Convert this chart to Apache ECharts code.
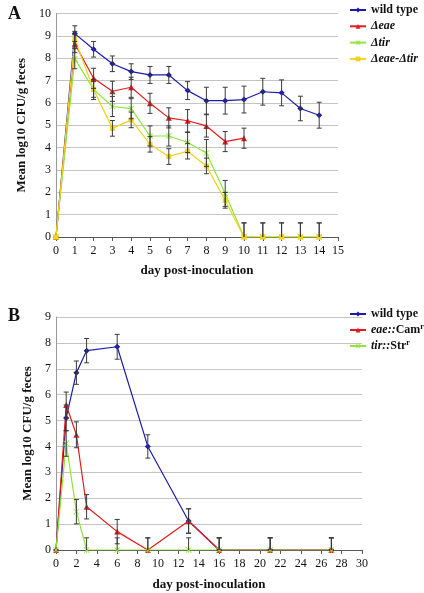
<!DOCTYPE html>
<html><head><meta charset="utf-8">
<script src="https://cdn.jsdelivr.net/npm/echarts@6/dist/echarts.min.js"></script>
<style>html,body{margin:0;padding:0;background:#fff}#c{width:424px;height:593px}</style>
</head><body><div id="c"></div>
<script>
// ---------- Panel A data ----------
const daysA = [0,1,2,3,4,5,6,7,8,9,10,11,12,13,14];
const daysA_eae = [0,1,2,3,4,5,6,7,8,9,10];
const wtA      = [0,9.1,8.4,7.75,7.4,7.25,7.25,6.55,6.1,6.1,6.15,6.5,6.45,5.75,5.45];
const wtA_err  = [0,0.35,0.35,0.35,0.35,0.38,0.38,0.4,0.6,0.6,0.6,0.6,0.58,0.55,0.58];
const eaeA     = [0,8.65,7.1,6.52,6.7,5.98,5.33,5.2,4.97,4.27,4.42];
const eaeA_err = [0,0.4,0.45,0.45,0.45,0.45,0.45,0.5,0.5,0.45,0.45];
const tirA     = [0,7.98,6.6,5.84,5.74,4.52,4.52,4.23,3.76,1.95,0,0,0,0,0];
const tirA_err = [0,0.45,0.45,0.45,0.45,0.45,0.45,0.45,0.6,0.58,0.63,0.63,0.63,0.63,0.63];
const dblA     = [0,8.85,6.6,4.86,5.24,4.15,3.6,3.84,3.18,1.64,0,0,0,0,0];
const dblA_err = [0,0.35,0.35,0.35,0.35,0.35,0.35,0.35,0.35,0.35,0.63,0.63,0.63,0.63,0.63];
const namesA = ['wild type','Δeae','Δtir','Δeae-Δtir'];

// ---------- Panel B data ----------
const daysB    = [0,1,2,3,6,9,13,16,21,27];
const wtB      = [0,5.1,6.85,7.7,7.85,4.0,1.12,0,0,0];
const wtB_err  = [0,0.5,0.45,0.47,0.48,0.45,0.47,0.47,0.47,0.47];
const camB     = [0,5.6,4.45,1.67,0.71,0,1.12,0,0,0];
const camB_err = [0,0.5,0.5,0.47,0.47,0.47,0.47,0.47,0.47,0.47];
const strB     = [0,4.12,1.48,0,0,0,0,0,0,0];
const strB_err = [0,0.5,0.47,0.47,0.47,0.47,0.47,0.47,0.47,0.47];
const namesB = ['wild type','eae::Camr','tir::Strr'];

const FF = '"Liberation Serif", "DejaVu Serif", serif';
const C_BLUE = '#1c1ca8', C_RED = '#e01c1c', C_GREEN = '#8fe63a', C_YEL = '#f2d21c';
const STAR = 'path://M0,1 L1,0 L5,4 L9,0 L10,1 L6,5 L10,9 L9,10 L5,6 L1,10 L0,9 L4,5 Z M4.4,0 L5.6,0 L5.6,10 L4.4,10 Z';

function lineSeries(name, gi, xs, ys, color, symbol, size) {
  return {
    type: 'line', name, xAxisIndex: gi, yAxisIndex: gi,
    data: xs.map((x, i) => [x, ys[i]]),
    symbol, symbolSize: size, showSymbol: true,
    lineStyle: { color, width: 1.2 }, itemStyle: { color },
    z: 3, animation: false
  };
}
function errSeries(gi, xs, ys, es) {
  return {
    type: 'custom', xAxisIndex: gi, yAxisIndex: gi, silent: true, z: 4, animation: false,
    data: xs.map((x, i) => [x, ys[i], es[i]]),
    encode: { x: 0, y: 1 },
    renderItem(params, api) {
      const x = api.value(0), v = api.value(1), e = api.value(2);
      if (!e) return { type: 'group', children: [] };
      const lo = Math.max(0, v - e);
      const t = api.coord([x, v + e]), b = api.coord([x, lo]);
      const w = 2.5, st = { stroke: '#3a3a3a', lineWidth: 1 };
      const ch = [
        { type: 'line', shape: { x1: t[0], y1: t[1], x2: b[0], y2: b[1] }, style: st },
        { type: 'line', shape: { x1: t[0] - w, y1: t[1], x2: t[0] + w, y2: t[1] }, style: st }
      ];
      if (v - e > 0) ch.push({ type: 'line', shape: { x1: b[0] - w, y1: b[1], x2: b[0] + w, y2: b[1] }, style: st });
      return { type: 'group', children: ch };
    }
  };
}
function xAx(gi, max, interval, gap) {
  return {
    gridIndex: gi, type: 'value', min: 0, max, interval,
    axisLine: { show: true, lineStyle: { color: '#555', width: 1 } },
    axisTick: { show: true, length: 4, lineStyle: { color: '#555' } },
    splitLine: { show: false },
    axisLabel: { margin: 8, fontFamily: FF, fontSize: 12, color: '#111' },
    name: 'day post-inoculation', nameLocation: 'middle', nameGap: gap,
    nameTextStyle: { fontFamily: FF, fontWeight: 'bold', fontSize: 13, color: '#111' }
  };
}
function yAx(gi, max) {
  return {
    gridIndex: gi, type: 'value', min: 0, max, interval: 1,
    axisLine: { show: true, lineStyle: { color: '#999', width: 1 } },
    axisTick: { show: false },
    splitLine: { show: true, lineStyle: { color: '#c4c4c4', width: 1 } },
    axisLabel: { margin: 5, fontFamily: FF, fontSize: 12, color: '#111' },
    name: 'Mean log10 CFU/g feces', nameLocation: 'middle', nameGap: 21,
    nameTextStyle: { fontFamily: FF, fontWeight: 'bold', fontSize: 13, color: '#111' }
  };
}

const chart = echarts.init(document.getElementById('c'), null, { renderer: 'canvas' });
const legText = {
  fontFamily: FF, fontSize: 12, color: '#111', fontWeight: 'bold',
  rich: {
    b: { fontFamily: FF, fontSize: 12, fontWeight: 'bold', color: '#111' },
    i: { fontFamily: FF, fontSize: 12, fontWeight: 'bold', fontStyle: 'italic', color: '#111' },
    n: { fontFamily: FF, fontSize: 12, color: '#111' },
    s: { fontFamily: FF, fontSize: 8, color: '#111', padding: [0, 0, 7, 0] }
  }
};
chart.setOption({
  animation: false,
  backgroundColor: '#fff',
  grid: [
    { left: 56, top: 13.5, width: 282, height: 223.5 },
    { left: 56, top: 317, width: 306, height: 233 }
  ],
  xAxis: [xAx(0, 15, 1, 27), xAx(1, 30, 2, 28)],
  yAxis: [yAx(0, 10), yAx(1, 9)],
  legend: [
    {
      data: namesA, orient: 'vertical', left: 344, top: -1, itemWidth: 16, itemHeight: 6, itemGap: 4.3,
      textStyle: legText,
      formatter: n => n === 'wild type' ? '{b|wild type}' : '{i|' + n + '}',
      selectedMode: false
    },
    {
      data: namesB, orient: 'vertical', left: 344, top: 303, itemWidth: 16, itemHeight: 6, itemGap: 2.5,
      textStyle: legText,
      formatter: n => n === 'wild type' ? '{b|wild type}' :
        (n === 'eae::Camr' ? '{i|eae::}{n|Cam}{s|r}' : '{i|tir::}{n|Str}{s|r}'),
      selectedMode: false
    }
  ],
  graphic: [
    { type: 'text', left: 8, top: 5, style: { text: 'A', fontFamily: FF, fontWeight: 'bold', fontSize: 18, fill: '#111' } },
    { type: 'text', left: 8, top: 307, style: { text: 'B', fontFamily: FF, fontWeight: 'bold', fontSize: 18, fill: '#111' } }
  ],
  series: [
    lineSeries('wild type', 0, daysA, wtA, C_BLUE, 'diamond', 6),
    lineSeries('Δeae', 0, daysA_eae, eaeA, C_RED, 'triangle', 6),
    lineSeries('Δtir', 0, daysA, tirA, C_GREEN, STAR, 6),
    lineSeries('Δeae-Δtir', 0, daysA, dblA, C_YEL, 'rect', 5),
    errSeries(0, daysA, wtA, wtA_err),
    errSeries(0, daysA_eae, eaeA, eaeA_err),
    errSeries(0, daysA, tirA, tirA_err),
    errSeries(0, daysA, dblA, dblA_err),
    lineSeries('wild type', 1, daysB, wtB, C_BLUE, 'diamond', 6),
    lineSeries('eae::Camr', 1, daysB, camB, C_RED, 'triangle', 6),
    lineSeries('tir::Strr', 1, daysB, strB, C_GREEN, STAR, 6),
    errSeries(1, daysB, wtB, wtB_err),
    errSeries(1, daysB, camB, camB_err),
    errSeries(1, daysB, strB, strB_err)
  ]
});
</script></body></html>
